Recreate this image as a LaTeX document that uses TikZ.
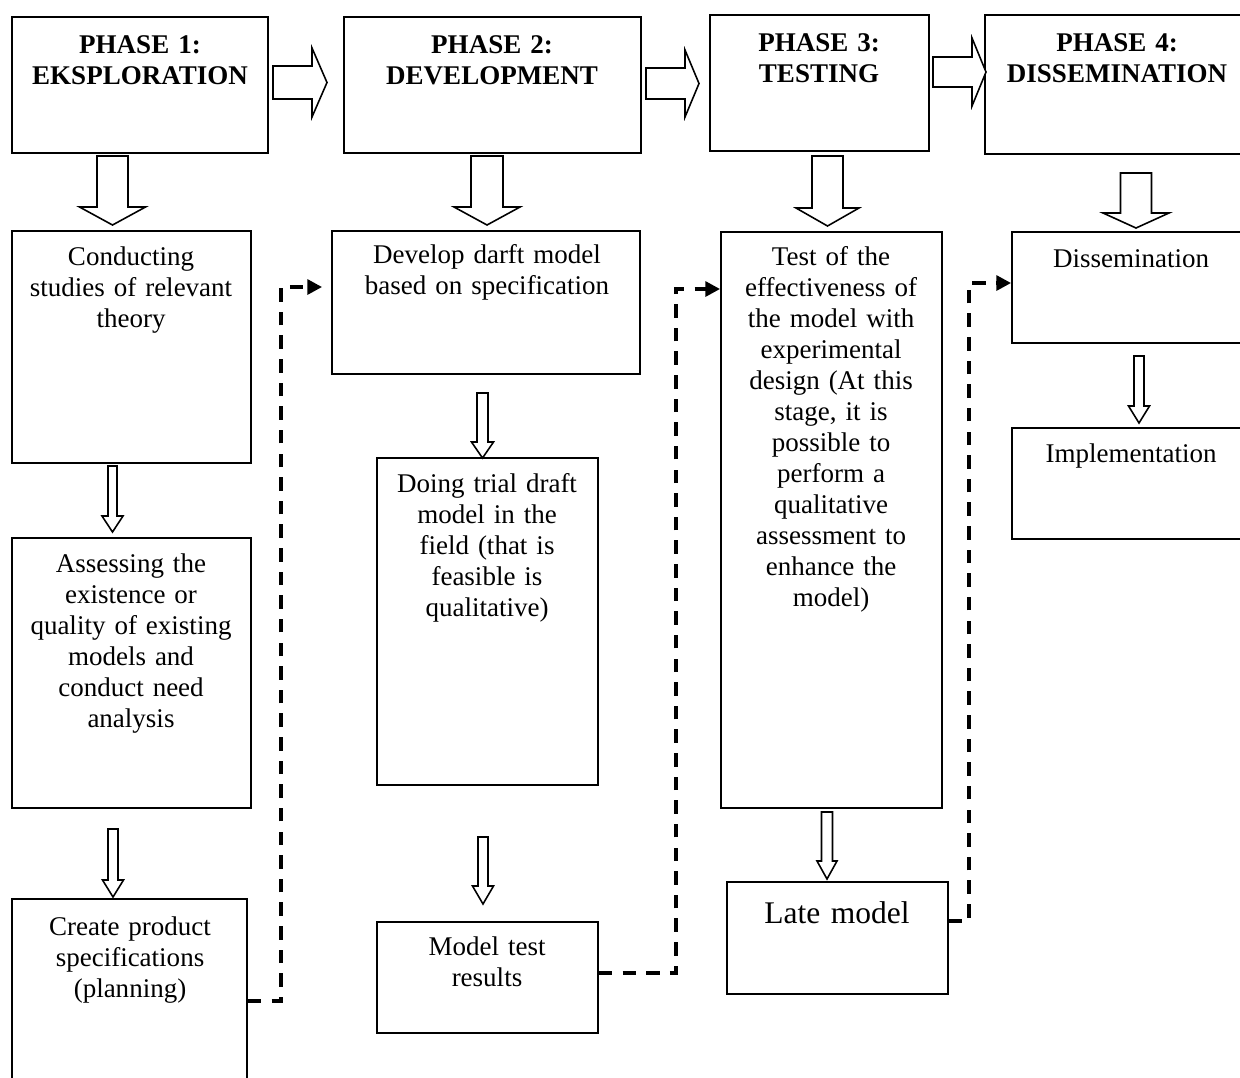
\documentclass[tikz,border=0pt]{standalone}
\usepackage{fontspec}
\setmainfont{Liberation Serif}
\usetikzlibrary{arrows.meta,fit}

\tikzset{
  stagebox/.style={draw, line width=0.8pt, inner sep=0pt},
  phasetext/.style={anchor=base, align=center, text width=125pt, inner sep=0pt,
    font=\fontsize{12pt}{13.8pt}\selectfont\bfseries},
  bodytext/.style={anchor=base, align=center, text width=125pt, inner sep=0pt,
    font=\fontsize{12pt}{13.8pt}\selectfont},
  blockarrow/.style={draw, line width=0.7pt, fill=white, line join=miter},
  dashlink/.style={line width=1.8pt, dash pattern=on 6pt off 4.5pt,
    -{Triangle[length=6.5pt,width=6.5pt]}},
}

% hollow block arrows: start, axis, head base, tip, half shaft, half head
\newcommand{\blockright}[6]{%
  \draw[blockarrow] (#1,#2-#5) -- (#3,#2-#5) -- (#3,#2-#6) -- (#4,#2)
    -- (#3,#2+#6) -- (#3,#2+#5) -- (#1,#2+#5) -- cycle;}
\newcommand{\blockdown}[6]{%
  \draw[blockarrow] (#2-#5,#1) -- (#2-#5,#3) -- (#2-#6,#3) -- (#2,#4)
    -- (#2+#6,#3) -- (#2+#5,#3) -- (#2+#5,#1) -- cycle;}

\begin{document}
\begin{tikzpicture}[x=0.4444pt, y=-0.4444pt]
      \useasboundingbox (0,0) rectangle (1240,1077);

      % phase boxes
      \node[stagebox, fit={(12,17) (268,153)}] (p1) {};
      \node[stagebox, fit={(344,17) (641,153)}] (p2) {};
      \node[stagebox, fit={(710,15) (929,151)}] (p3) {};
      \node[stagebox, fit={(985,15) (1252,154)}] (p4) {};
      \node[phasetext] (p1txt) at (140,53) {PHASE 1:\\EKSPLORATION};
      \node[phasetext] (p2txt) at (492,53) {PHASE 2:\\DEVELOPMENT};
      \node[phasetext] (p3txt) at (819,51) {PHASE 3:\\TESTING};
      \node[phasetext] (p4txt) at (1117,51) {PHASE 4:\\DISSEMINATION};

      % phase 1
      \node[stagebox, fit={(12,231) (251,463)}] (conduct) {};
      \node[stagebox, fit={(12,538) (251,808)}] (assess) {};
      \node[stagebox, fit={(12,899) (247,1103)}] (create) {};
      \node[bodytext] (conducttxt) at (131,265) {Conducting\\studies of relevant\\theory};
      \node[bodytext] (assesstxt) at (131,572) {Assessing the\\existence or\\quality of existing\\models and\\conduct need\\analysis};
      \node[bodytext] (createtxt) at (130,935) {Create product\\specifications\\(planning)};

      % phase 2
      \node[stagebox, fit={(332,231) (640,374)}] (develop) {};
      \node[stagebox, fit={(377,458) (598,785)}] (trial) {};
      \node[stagebox, fit={(377,922) (598,1033)}] (result) {};
      \node[bodytext] (developtxt) at (487,263) {Develop darft model\\based on specification};
      \node[bodytext] (trialtxt) at (487,492) {Doing trial draft\\model in the\\field (that is\\feasible is\\qualitative)};
      \node[bodytext] (resulttxt) at (487,955) {Model test\\results};

      % phase 3
      \node[stagebox, fit={(721,232) (942,808)}] (testbox) {};
      \node[stagebox, fit={(727,882) (948,994)}] (late) {};
      \node[bodytext] (testtxt) at (831,265) {Test of the\\effectiveness of\\the model with\\experimental\\design (At this\\stage, it is\\possible to\\perform a\\qualitative\\assessment to\\enhance the\\model)};
      \node[bodytext, font=\fontsize{14pt}{16pt}\selectfont] (latetxt) at (837,923) {Late model};

      % phase 4
      \node[stagebox, fit={(1012,232) (1252,343)}] (dissem) {};
      \node[stagebox, fit={(1012,428) (1252,539)}] (implement) {};
      \node[bodytext] (dissemtxt) at (1131,267) {Dissemination};
      \node[bodytext] (implementtxt) at (1131,462) {Implementation};

      % arrows between phases
      \blockright{273}{82.5}{312}{327}{16.5}{34.5}
      \blockright{646}{83.5}{685}{699}{15.5}{33.5}
      \blockright{933}{72}{972}{986}{15}{34}

      % arrows down the columns
      \blockdown{156}{112.5}{207}{225}{15.5}{33}
      \blockdown{156}{487}{207}{225}{16}{33}
      \blockdown{156}{827.5}{208}{226}{15.5}{31.5}
      \blockdown{173}{1136}{213}{228}{15.5}{33}
      \blockdown{466}{112.5}{516}{532}{4.5}{10.5}
      \blockdown{829}{113}{880}{897}{5}{10.5}
      \blockdown{393}{482.5}{442}{458}{5.5}{11}
      \blockdown{837}{483}{886}{904}{5}{10.5}
      \blockdown{812}{827}{861}{879}{5.5}{10}
      \blockdown{356}{1139}{406}{423}{5}{10.5}

      % dashed links to the next phase
      \coordinate (bend1) at (281,287);
      \coordinate (bend2) at (676,289);
      \coordinate (bend3) at (969,283);
      \draw[dashlink, shorten >=4pt] (create.east) -| (bend1) -- (develop.west |- bend1);
      \draw[dashlink] ([yshift=2pt]result.east) -| (bend2) -- (testbox.west |- bend2);
      \draw[dashlink] ([yshift=7.5pt]late.east) -| (bend3) -- (dissem.west |- bend3);
    \end{tikzpicture}
\end{document}
